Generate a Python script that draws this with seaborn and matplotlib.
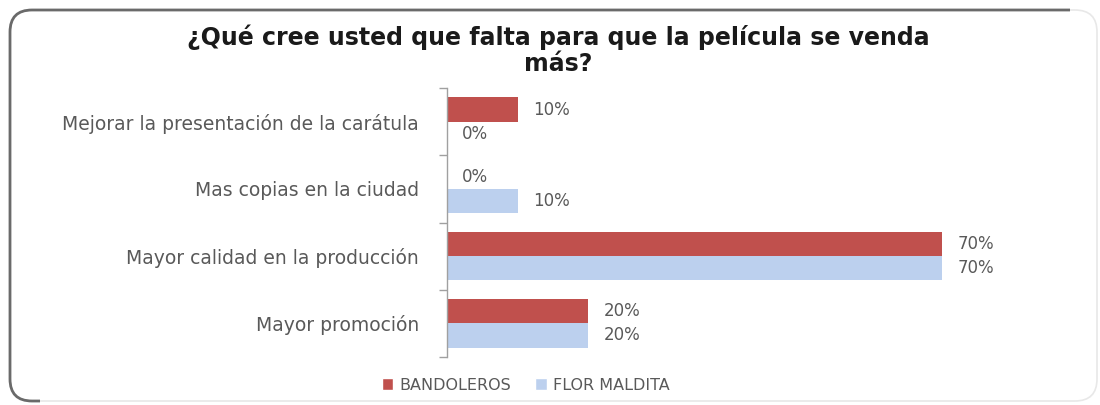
import matplotlib
matplotlib.use("Agg")
import matplotlib.pyplot as plt
from matplotlib.patches import FancyBboxPatch, Polygon
from matplotlib.ticker import FixedLocator
import pandas as pd
import seaborn as sns

categories = [
    "Mejorar la presentación de la carátula",
    "Mas copias en la ciudad",
    "Mayor calidad en la producción",
    "Mayor promoción",
]
series_names = ["BANDOLEROS", "FLOR MALDITA"]
bandoleros = [10, 0, 70, 20]
flor_maldita = [0, 10, 70, 20]

df = pd.DataFrame({
    "categoria": categories * 2,
    "serie": [series_names[0]] * 4 + [series_names[1]] * 4,
    "valor": bandoleros + flor_maldita,
})

sns.set_theme(style="white")
plt.rcParams["font.family"] = ["DejaVu Sans"]

text_gray = "#595959"
red = "#C0504D"
blue = "#BCD0EE"

W, H = 1100, 405
fig = plt.figure(figsize=(W / 100, H / 100), dpi=100)
fig.patch.set_facecolor("white")

def fx(px):
    return px / W

def fy(py):
    return 1 - py / H

# chart frame: faint all round, dark along the left and top edges
box = (fx(10), fy(401), fx(1097) - fx(10), fy(10) - fy(401))
faint = FancyBboxPatch(box[:2], box[2], box[3],
                       boxstyle="round,pad=0,rounding_size=0.02",
                       transform=fig.transFigure, facecolor="none",
                       edgecolor="#e8e8e8", linewidth=1.2, mutation_aspect=W / H)
fig.patches.append(faint)
dark = FancyBboxPatch(box[:2], box[2], box[3],
                      boxstyle="round,pad=0,rounding_size=0.02",
                      transform=fig.transFigure, facecolor="none",
                      edgecolor="#6a6a6a", linewidth=2.0, mutation_aspect=W / H)
clip = Polygon([(0, 0), (fx(40), 0), (fx(40), fy(30)), (fx(1070), fy(30)),
                (fx(1070), 1), (0, 1)], closed=True, transform=fig.transFigure)
dark.set_clip_path(clip)
fig.patches.append(dark)

ax = fig.add_axes([fx(447), fy(357), fx(1048) - fx(447), fy(88) - fy(357)])
sns.barplot(data=df, y="categoria", x="valor", hue="serie", orient="h",
            palette=[red, blue], width=0.72, ax=ax, legend=False,
            saturation=1, edgecolor="none")

ax.set_xlim(0, 85)
ax.set_ylim(3.5, -0.5)
ax.set_xlabel("")
ax.set_ylabel("")
ax.set_xticks([])
for side in ["top", "right", "bottom"]:
    ax.spines[side].set_visible(False)
ax.spines["left"].set_color("#a0a0a0")
ax.spines["left"].set_linewidth(1.0)
ax.tick_params(axis="y", which="major", length=0, pad=20, labelsize=13.5,
               labelcolor=text_gray)
ax.yaxis.set_minor_locator(FixedLocator([-0.5, 0.5, 1.5, 2.5, 3.5]))
ax.tick_params(axis="y", which="minor", length=6, color="#a0a0a0", left=True)

for container in ax.containers:
    ax.bar_label(container, labels=[f"{v:.0f}%" for v in container.datavalues],
                 padding=11, fontsize=12, color=text_gray)

fig.text(fx(558), fy(50), "¿Qué cree usted que falta para que la película se venda\nmás?",
         ha="center", va="center", fontsize=17, fontweight="bold",
         color="#1a1a1a", linespacing=1.1)

handles = [plt.Rectangle((0, 0), 1, 1, facecolor=red),
           plt.Rectangle((0, 0), 1, 1, facecolor=blue)]
fig.legend(handles, series_names, loc="center", bbox_to_anchor=(fx(526), fy(385)),
           ncol=2, frameon=False, fontsize=11.5, labelcolor=text_gray,
           handlelength=0.7, handleheight=0.7, handletextpad=0.4, columnspacing=1.5)

fig.savefig("out.png", dpi=100)
